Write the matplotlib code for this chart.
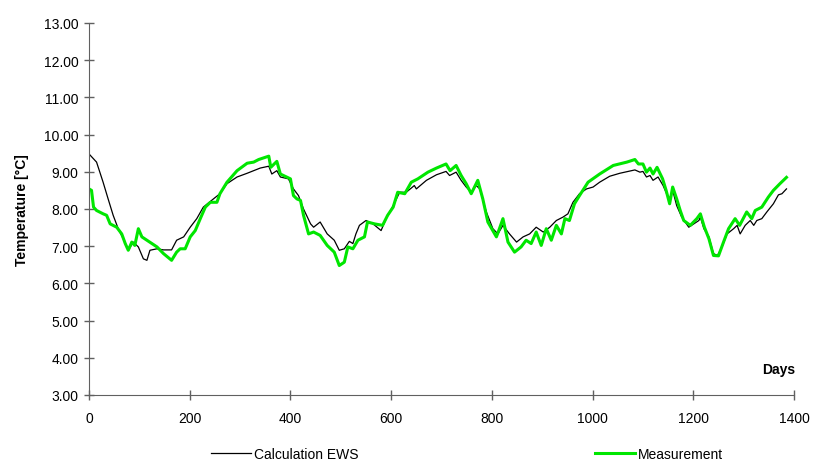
import matplotlib
matplotlib.use('Agg')
import matplotlib.pyplot as plt
from matplotlib.ticker import FormatStrFormatter

plt.rcParams['font.family'] = ['Liberation Sans', 'DejaVu Sans']

# calculated temperature (EWS)
calc_days = [0, 15, 28, 38, 48, 58, 68, 78, 88, 98, 108, 115, 121, 135, 148, 164, 174, 188, 201, 214,
             227, 247, 260, 274, 294, 314, 340, 357, 363, 373, 380, 396, 406, 416, 426, 440, 446, 459, 473, 487,
             497, 507, 517, 524, 530, 537, 550, 564, 580, 590, 604, 617, 630, 646, 650, 670, 690, 709, 716, 729,
             739, 749, 759, 769, 776, 789, 802, 812, 822, 835, 849, 862, 875, 888, 902, 915, 928, 941, 951, 961,
             974, 988, 1001, 1014, 1034, 1054, 1084, 1094, 1100, 1107, 1114, 1120, 1130, 1140, 1147, 1153, 1159,
             1167, 1177, 1191, 1201, 1211, 1214, 1221, 1231, 1240, 1248, 1257, 1267, 1280, 1287, 1293, 1303,
             1313, 1320, 1326, 1336, 1346, 1359, 1369, 1376, 1385]
calc_temp = [9.48, 9.26, 8.72, 8.27, 7.83, 7.47, 7.2, 6.89, 7.11, 6.98, 6.66, 6.62, 6.89, 6.93, 6.9, 6.9, 7.16, 7.25, 7.51, 7.74,
             8.05, 8.27, 8.41, 8.68, 8.86, 8.96, 9.1, 9.15, 8.94, 9.03, 8.86, 8.81, 8.54, 8.36, 8.0, 7.6, 7.51, 7.65, 7.33, 7.16,
             6.89, 6.93, 7.13, 7.07, 7.33, 7.56, 7.69, 7.6, 7.42, 7.74, 8.09, 8.45, 8.45, 8.63, 8.54, 8.77, 8.92, 9.01, 8.9, 8.99,
             8.77, 8.59, 8.45, 8.63, 8.54, 7.92, 7.47, 7.33, 7.56, 7.33, 7.11, 7.25, 7.33, 7.51, 7.38, 7.51, 7.69, 7.78, 7.87, 8.18,
             8.41, 8.54, 8.59, 8.72, 8.88, 8.96, 9.05, 8.99, 9.01, 8.86, 8.9, 8.77, 8.86, 8.63, 8.41, 8.27, 8.5,
             8.09, 7.78, 7.51, 7.6, 7.69, 7.78, 7.47, 7.25, 6.8, 6.75, 6.98, 7.33, 7.47, 7.56, 7.33, 7.56,
             7.69, 7.56, 7.69, 7.74, 7.92, 8.14, 8.38, 8.41, 8.54]

# measured temperature
meas_days = [0, 5, 9, 15, 28, 35, 42, 55, 65, 72, 78, 85, 91, 98, 105, 115, 135, 148, 164, 174, 181, 191,
             201, 211, 221, 231, 241, 254, 260, 274, 294, 314, 327, 337, 357, 361, 373, 380, 400, 406, 413, 420,
             426, 436, 446, 459, 473, 487, 497, 507, 514, 524, 534, 547, 553, 567, 583, 593, 604, 613, 627, 640,
             653, 673, 690, 709, 717, 729, 739, 749, 759, 772, 782, 792, 809, 815, 822, 832, 845, 858, 868, 878,
             888, 898, 908, 918, 928, 938, 945, 954, 964, 974, 991, 1014, 1041, 1068, 1084, 1091, 1100, 1107,
             1114, 1120, 1128, 1139, 1146, 1153, 1159, 1167, 1174, 1181, 1194, 1207, 1214, 1222, 1231, 1240,
             1250, 1260, 1270, 1283, 1292, 1306, 1316, 1323, 1336, 1349, 1359, 1372, 1385]
meas_temp = [8.54, 8.5, 8.05, 7.96, 7.87, 7.83, 7.6, 7.51, 7.33, 7.07, 6.89, 7.11, 7.02, 7.47, 7.25, 7.16, 6.98, 6.8, 6.62, 6.84, 6.93, 6.93,
             7.25, 7.42, 7.74, 8.05, 8.18, 8.18, 8.41, 8.72, 9.03, 9.23, 9.26, 9.33, 9.42, 9.12, 9.28, 8.94, 8.81, 8.36, 8.27, 8.23,
             7.83, 7.33, 7.38, 7.29, 7.02, 6.84, 6.48, 6.57, 6.98, 6.93, 7.16, 7.25, 7.65, 7.6, 7.56, 7.83, 8.05, 8.45, 8.41, 8.72,
             8.81, 8.99, 9.1, 9.21, 9.03, 9.17, 8.9, 8.68, 8.41, 8.77, 8.27, 7.65, 7.25, 7.47, 7.74, 7.11, 6.84, 6.98, 7.16, 7.07,
             7.38, 7.02, 7.47, 7.16, 7.56, 7.33, 7.74, 7.69, 8.14, 8.36, 8.72, 8.94, 9.17, 9.26, 9.33, 9.21, 9.21, 8.99,
             9.1, 8.94, 9.12, 8.81, 8.5, 8.14, 8.59, 8.27, 7.96, 7.69, 7.56, 7.74, 7.87, 7.51, 7.2, 6.75,
             6.74, 7.11, 7.47, 7.74, 7.56, 7.92, 7.74, 7.96, 8.05, 8.32, 8.5, 8.68, 8.85]

fig = plt.figure(figsize=(8.18, 4.64), dpi=100)
ax = fig.add_axes([0.1088, 0.1466, 0.8619, 0.8017])

ax.plot(calc_days, calc_temp, color='black', lw=0.9, label='Calculation EWS')
ax.plot(meas_days, meas_temp, color='#00e600', lw=2.2, label='Measurement')

ax.set_xlim(0, 1400)
ax.set_ylim(3, 13)
ax.set_xticks(range(0, 1401, 200))
ax.set_yticks(range(3, 14))
ax.yaxis.set_major_formatter(FormatStrFormatter('%.2f'))
ax.tick_params(direction='inout', length=7, width=1, color='#606060', labelsize=10, pad=4)
ax.tick_params(axis='x', pad=8)

for side in ['top', 'right']:
    ax.spines[side].set_visible(False)
for side in ['left', 'bottom']:
    ax.spines[side].set_color('#606060')

ax.set_ylabel('Temperature [°C]', fontsize=10, fontweight='bold', labelpad=11)
ax.text(1370, 3.7, 'Days', ha='center', va='center', fontsize=10, fontweight='bold')

fig.legend(loc='center', bbox_to_anchor=(0.571, 0.02), ncol=2, frameon=False, fontsize=10,
           handlelength=2.9, handletextpad=0.2, columnspacing=17)

plt.savefig('out.png', dpi=100)
